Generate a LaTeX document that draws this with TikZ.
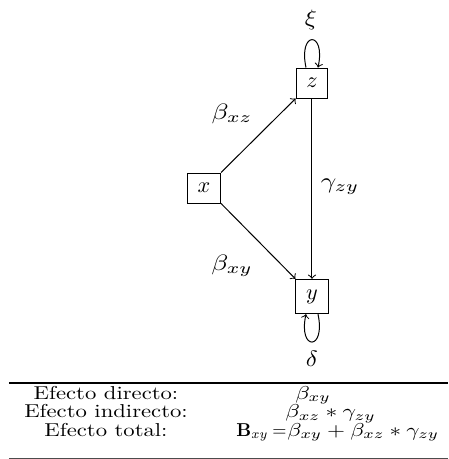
\documentclass[tikz,border=0pt]{standalone}
\usepackage{amsmath}
\begin{document}
\begin{tikzpicture}[x=0.45pt,y=-0.45pt,
  var/.style={draw, inner sep=4.6pt, line width=0.45pt},
  conn/.style={->, line width=0.45pt},
  lbl/.style={inner sep=0pt},
  cell/.style={inner sep=0pt, anchor=base}]
\useasboundingbox (0,0) rectangle (448,459);
% variables
\node[var] (z) at (312,83) {$z$};
\node[var] (x) at (204,188) {$x$};
\node[var] (y) at (312,296.5) {$y$};
% error terms
\node[lbl] (xi) at (311,20) {\scalebox{1.12}[1]{$\xi$}};
\node[lbl] (delta) at (312,359) {\scalebox{1.12}[1]{$\delta$}};
% paths
\draw[conn] (x.north east) -- (z.south west);
\draw[conn] (x.south east) -- (y.north west);
\draw[conn] (z.south) -- (y.north);
% self loops
\draw[conn] ([shift={(-6,0)}]z.north) .. controls +(-8,-37) and +(8,-37) .. ([shift={(6,0)}]z.north);
\draw[conn] ([shift={(6,0)}]y.south) .. controls +(8,37) and +(-8,37) .. ([shift={(-6,0)}]y.south);
% labels
\node[lbl] (bxz) at (232,114) {\scalebox{1.24}[1]{$\beta_{xz}$}};
\node[lbl] (bxy) at (232,266) {\scalebox{1.24}[1]{$\beta_{xy}$}};
\node[lbl] (gzy) at (340,187) {\scalebox{1.22}[1]{$\gamma_{zy}$}};
% table
\draw[line width=0.8pt] (9,383) -- (448,383);
\draw[line width=0.4pt, black!70] (9,458) -- (448,458);
\node[cell] (l1) at (106,399) {\scalebox{1.02}[0.84]{Efecto directo:}};
\node[cell] (l2) at (106,417.5) {\scalebox{1.02}[0.84]{Efecto indirecto:}};
\node[cell] (l3) at (106,436) {\scalebox{1.02}[0.84]{Efecto total:}};
\node[cell] (r1) at (313,399) {\scalebox{1.06}[0.84]{$\beta_{xy}$}};
\node[cell, anchor=base west] (r2) at (285,417.5) {\scalebox{1.06}[0.84]{$\beta_{xz} * \gamma_{zy}$}};
\node[cell, anchor=base east] (r3a) at (287,436) {\scalebox{0.82}[0.84]{$\mathbf{B}_{xy}\:{=}$}};
\node[cell, anchor=base west] (r3b) at (287,436) {\scalebox{1.04}[0.84]{$\beta_{xy} + \beta_{xz} * \gamma_{zy}$}};
\end{tikzpicture}
\end{document}
